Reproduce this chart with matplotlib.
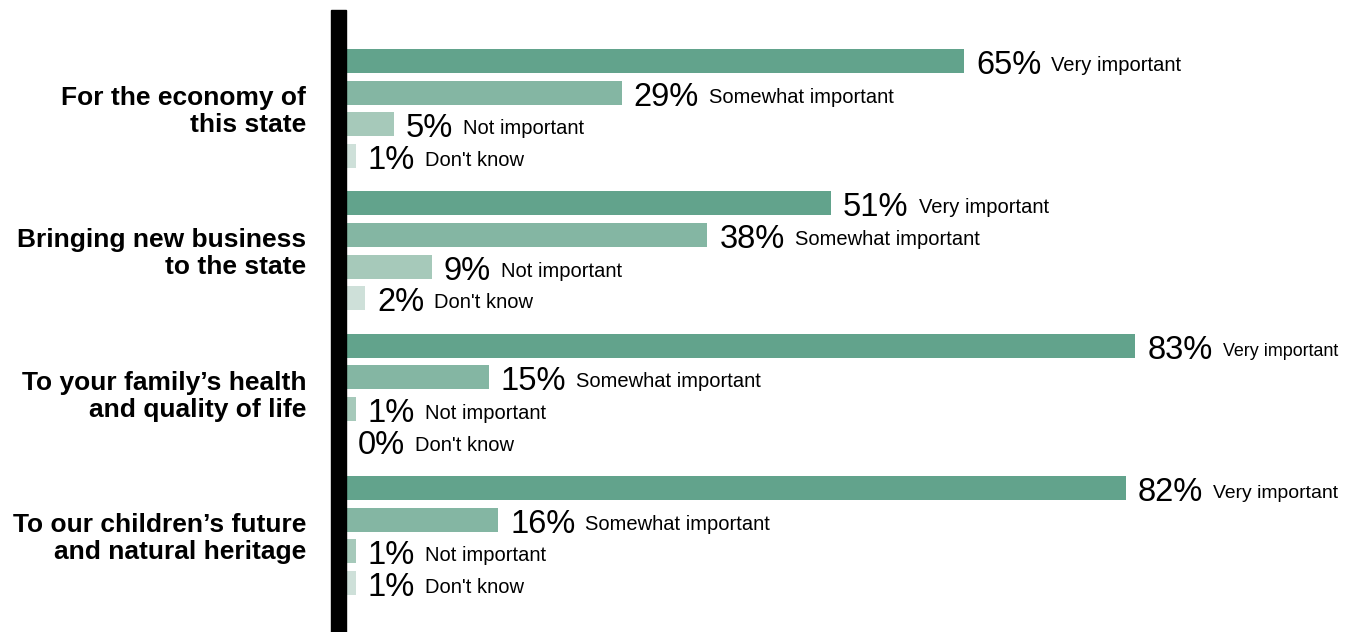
import matplotlib.pyplot as plt
from matplotlib.patches import Rectangle

plt.rcParams['font.family'] = ['Liberation Sans', 'DejaVu Sans']

categories = ['For the economy of\nthis state',
              'Bringing new business\nto the state',
              'To your family\u2019s health\nand quality of life',
              'To our children\u2019s future\nand natural heritage']
responses = ['Very important', 'Somewhat important', 'Not important', "Don't know"]
values = [
    [65, 29, 5, 1],
    [51, 38, 9, 2],
    [83, 15, 1, 0],
    [82, 16, 1, 1],
]
colors = ['#62A38C', '#84B6A3', '#A6C9BA', '#CEE0D9']

W, H = 1352, 632
fig = plt.figure(figsize=(W / 100, H / 100), dpi=100)
ax = fig.add_axes([346 / W, 0, 1 - 346 / W, 1])
ax.set_xlim(0, (W - 346) / 9.51)
ax.set_ylim(H, 0)
ax.axis('off')

# vertical black bar on the left of the plot
fig.add_artist(Rectangle((331 / W, 0), 15 / W, (H - 10) / H,
                         transform=fig.transFigure, color='black'))

labels = []
group_step, row_step, first = 142.3, 31.7, 61
for g, cat in enumerate(categories):
    ys = [first + g * group_step + r * row_step for r in range(4)]
    ax.barh(ys, values[g], height=24, color=colors, left=0)
    for r, (y, v) in enumerate(zip(ys, values[g])):
        t1 = ax.annotate(f'{v}%', xy=(v, y), xytext=(12, -13),
                         textcoords='offset pixels', fontsize=23.5,
                         va='baseline', ha='left')
        t2 = ax.annotate(responses[r], xy=(1, y), xycoords=(t1, 'data'),
                         xytext=(10, -10), textcoords='offset pixels',
                         fontsize=14.5, va='baseline', ha='left')
        labels.append(t2)
    yc = (ys[0] + ys[-1]) / 2 + 3
    fig.text(306 / W, 1 - yc / H, cat, ha='right', va='center',
             fontsize=19, fontweight='bold', linespacing=1.15)

# squeeze labels that would run past the right edge
fig.canvas.draw()
r = fig.canvas.get_renderer()
for t in labels:
    bb = t.get_window_extent(r)
    if bb.x1 > 1338:
        t.set_fontsize(14.5 * (1338 - bb.x0) / bb.width)

fig.savefig('out.png', dpi=100)
